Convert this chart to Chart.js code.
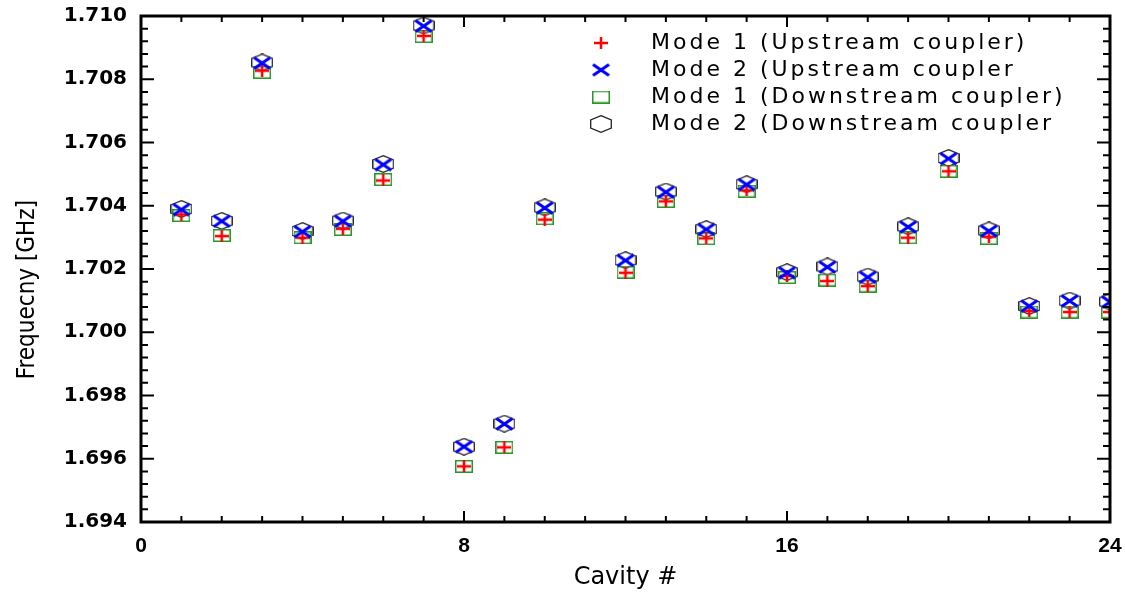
<!DOCTYPE html>
<html>
<head>
<meta charset="utf-8">
<script src="https://cdn.jsdelivr.net/npm/chart.js@4.4.1/dist/chart.umd.min.js"></script>
<style>
  html, body { margin: 0; padding: 0; background: #fff; }
  canvas { display: block; }
</style>
</head>
<body>
<canvas id="myChart_Cavity" width="1125" height="592"></canvas>
<script>
// cavity 11 was not measured
const cavities = [1, 2, 3, 4, 5, 6, 7, 8, 9, 10, 12, 13, 14, 15, 16, 17, 18, 19, 20, 21, 22, 23, 24];
const mode1Up = [1.70372, 1.70304, 1.70827, 1.70299, 1.70327, 1.70480, 1.70937, 1.69576, 1.69636, 1.70356, 1.70188, 1.70414,
  1.70297, 1.70449, 1.70178, 1.70162, 1.70146, 1.70299, 1.70509, 1.70302, 1.70067, 1.70064, 1.70064];
const mode2Up = [1.70388, 1.70351, 1.70851, 1.70318, 1.70351, 1.70530, 1.70968, 1.69638, 1.69710, 1.70393, 1.70227, 1.70443,
  1.70325, 1.70467, 1.70188, 1.70206, 1.70174, 1.70333, 1.70549, 1.70320, 1.70083, 1.70099, 1.70096];
const mode1Down = [1.70369, 1.70306, 1.70822, 1.70299, 1.70325, 1.70483, 1.70935, 1.69576, 1.69636, 1.70359, 1.70190, 1.70414,
  1.70296, 1.70446, 1.70173, 1.70165, 1.70146, 1.70299, 1.70509, 1.70297, 1.70064, 1.70064, 1.70064];
const mode2Down = [1.70390, 1.70352, 1.70853, 1.70320, 1.70353, 1.70532, 1.70970, 1.69638, 1.69711, 1.70395, 1.70228, 1.70445,
  1.70326, 1.70468, 1.70190, 1.70208, 1.70176, 1.70335, 1.70551, 1.70322, 1.70083, 1.70100, 1.70097];

const seriesNames = ["Mode 1 (Upstream coupler)", "Mode 2 (Upstream coupler", "Mode 1 (Downstream coupler)", "Mode 2 (Downstream coupler"];
const xTicks = [0, 8, 16, 24];
const yTicks = [1.694, 1.696, 1.698, 1.700, 1.702, 1.704, 1.706, 1.708, 1.710];
const yTickLabels = ["1.694", "1.696", "1.698", "1.700", "1.702", "1.704", "1.706", "1.708", "1.710"];

const toPoints = (vals) => cavities.map((c, i) => ({ x: c, y: vals[i] }));

// marker images (the originals are a bit wider than tall)
const makeMarker = (w, h, draw) => {
  const c = document.createElement("canvas");
  c.width = w;
  c.height = h;
  draw(c.getContext("2d"), w, h);
  return c;
};
const plusMark = makeMarker(14, 12, (g, w, h) => {
  g.strokeStyle = "#ff0000";
  g.lineWidth = 2.5;
  g.beginPath();
  g.moveTo(0, h / 2); g.lineTo(w, h / 2);
  g.moveTo(w / 2, 0); g.lineTo(w / 2, h);
  g.stroke();
});
const crossMark = makeMarker(19, 14, (g, w, h) => {
  g.strokeStyle = "#0000ff";
  g.lineWidth = 3;
  g.beginPath();
  g.moveTo(1.5, 1.5); g.lineTo(w - 1.5, h - 1.5);
  g.moveTo(w - 1.5, 1.5); g.lineTo(1.5, h - 1.5);
  g.stroke();
});
const squareMark = makeMarker(18, 13, (g, w, h) => {
  g.strokeStyle = "rgb(40,150,40)";
  g.lineWidth = 1.5;
  g.strokeRect(0.75, 0.75, w - 1.5, h - 1.5);
});
const hexMark = makeMarker(22, 18, (g, w, h) => {
  g.strokeStyle = "#222";
  g.lineWidth = 1.3;
  g.beginPath();
  g.moveTo(w / 2, 0.7);
  g.lineTo(w - 0.7, h * 0.27);
  g.lineTo(w - 0.7, h * 0.73);
  g.lineTo(w / 2, h - 0.7);
  g.lineTo(0.7, h * 0.73);
  g.lineTo(0.7, h * 0.27);
  g.closePath();
  g.stroke();
});
const markers = [plusMark, crossMark, squareMark, hexMark];

// frame with inward ticks on all four sides
const axisFrame = {
  id: "axisFrame",
  afterDraw(chart) {
    const { ctx, chartArea: a, scales: { x, y } } = chart;
    ctx.save();
    ctx.strokeStyle = "#000";
    ctx.lineWidth = 2;
    ctx.beginPath();
    for (let i = 0; i <= 24; i++) {
      const px = x.getPixelForValue(i);
      const len = xTicks.includes(i) ? 11 : 6;
      ctx.moveTo(px, a.bottom); ctx.lineTo(px, a.bottom - len);
      ctx.moveTo(px, a.top); ctx.lineTo(px, a.top + len);
    }
    for (let i = 0; i <= 40; i++) {
      const py = y.getPixelForValue(yTicks[0] + i * 0.0004);
      const len = i % 5 === 0 ? 13 : 7;
      ctx.moveTo(a.left, py); ctx.lineTo(a.left + len, py);
      ctx.moveTo(a.right, py); ctx.lineTo(a.right - len, py);
    }
    ctx.stroke();
    ctx.lineWidth = 3;
    ctx.strokeRect(a.left, a.top, a.right - a.left, a.bottom - a.top);
    ctx.restore();
  }
};

// legend inside the plot, upper right
const boxLegend = {
  id: "boxLegend",
  afterDraw(chart) {
    const ctx = chart.ctx;
    ctx.save();
    ctx.font = "22px 'DejaVu Sans', sans-serif";
    ctx.letterSpacing = "3px";
    ctx.fillStyle = "#000";
    ctx.textBaseline = "middle";
    chart.data.datasets.forEach((ds, i) => {
      const rowY = 43 + i * 27;
      const m = markers[i];
      ctx.drawImage(m, 601 - m.width / 2, rowY - m.height / 2);
      ctx.fillText(ds.label, 651, rowY);
    });
    ctx.restore();
  }
};

const makeSet = (label, vals, i, order) => ({
  label: label,
  data: toPoints(vals),
  pointStyle: markers[i],
  pointRadius: 8,
  pointHoverRadius: 8,
  clip: 0,
  order: order,
});

const cavityGraph = () => {
  new Chart(document.getElementById("myChart_Cavity"), {
    type: "scatter",
    data: {
      datasets: [
        makeSet(seriesNames[0], mode1Up, 0, 1),
        makeSet(seriesNames[1], mode2Up, 1, 0),
        makeSet(seriesNames[2], mode1Down, 2, 2),
        makeSet(seriesNames[3], mode2Down, 3, 3),
      ],
    },
    options: {
      responsive: false,
      animation: false,
      devicePixelRatio: 1,
      layout: { padding: { top: 16, right: 15, left: 0, bottom: 0 } },
      plugins: {
        legend: { display: false },
        tooltip: { enabled: false },
      },
      scales: {
        x: {
          type: "linear",
          min: 0,
          max: 24,
          afterBuildTicks: (s) => { s.ticks = xTicks.map((v) => ({ value: v })); },
          afterFit: (s) => { s.height = 70; s.paddingLeft = 0; s.paddingRight = 0; },
          grid: { display: false, drawTicks: false },
          border: { display: false },
          ticks: {
            padding: 12,
            color: "#000",
            font: { family: "'Liberation Sans', Arial, sans-serif", size: 21, weight: "bold" },
            maxRotation: 0,
          },
          title: {
            display: true,
            text: "Cavity #",
            color: "#000",
            padding: { top: 0, bottom: 0 },
            font: { family: "'DejaVu Sans', sans-serif", size: 24 },
          },
        },
        y: {
          type: "linear",
          min: 1.694,
          max: 1.710,
          afterBuildTicks: (s) => { s.ticks = yTicks.map((v) => ({ value: v })); },
          afterFit: (s) => { s.width = 141; s.paddingTop = 0; s.paddingBottom = 0; },
          grid: { display: false, drawTicks: false },
          border: { display: false },
          ticks: {
            padding: 14,
            color: "#000",
            font: { family: "'DejaVu Sans', sans-serif", size: 20, weight: "bold" },
            callback: (v, i) => yTickLabels[i],
          },
          title: {
            display: true,
            // trailing spaces push the rotated title a little lower, as in the original
            text: "Frequecny [GHz]      ",
            color: "#000",
            padding: { top: 13, bottom: 0 },
            font: { family: "'DejaVu Sans Condensed', sans-serif", size: 24 },
          },
        },
      },
    },
    plugins: [axisFrame, boxLegend],
  });
};

window.addEventListener("load", cavityGraph);
</script>
</body>
</html>
